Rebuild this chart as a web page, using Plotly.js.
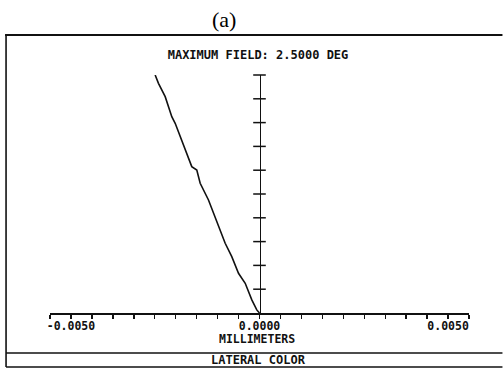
<!DOCTYPE html>
<html>
<head>
<meta charset="utf-8">
<script src="https://cdn.plot.ly/plotly-3.0.1.min.js"></script>
<style>html,body{margin:0;padding:0;background:#fff;}#chart{width:503px;height:369px;}</style>
</head>
<body>
<div id="chart"></div>
<script>
// Data (lateral color vs. relative field)
const fieldFraction = [0, 0.013, 0.055, 0.125, 0.167, 0.237, 0.293, 0.363, 0.475, 0.545, 0.601, 0.615, 0.727, 0.797, 0.825, 0.909, 0.965, 1.0];
const lateralColorMm = [0, -0.000072, -0.000204, -0.000379, -0.000557, -0.000735, -0.000910, -0.001088, -0.001353, -0.001573, -0.001663, -0.001796, -0.002061, -0.002236, -0.002326, -0.002501, -0.002679, -0.002767];
const xLabelValues = [-0.005, 0, 0.005];
const xLabelTexts = ['-0.0050', '0.0000', '0.0050'];
const yTickValues = [0.1, 0.2, 0.3, 0.4, 0.5, 0.6, 0.7, 0.8, 0.9, 1.0];
const titleText = 'MAXIMUM FIELD: 2.5000 DEG';
const xTitleText = 'MILLIMETERS';
const footerText = 'LATERAL COLOR';
const figLabel = '(a)';

// Axis tick layout: 9 minor steps per labelled interval
const step = 0.005 / 9;
const xTickVals = [], xTickText = [];
for (let i = -10; i <= 10; i++) {
  const v = i * step;
  xTickVals.push(v);
  let t = '';
  xLabelValues.forEach((lv, k) => { if (Math.abs(lv - v) < step / 10) t = xLabelTexts[k]; });
  xTickText.push(t);
}

const W = 503, H = 369;
const M = {l: 50, r: 33.5, t: 75, b: 56};
const pw = W - M.l - M.r, ph = H - M.t - M.b;
const px = x => (x - M.l) / pw;
const py = y => (H - M.b - y) / ph;

const mono = 'DejaVu Sans Mono, monospace';
const ink = '#111';

const curve = {
  x: lateralColorMm, y: fieldFraction, type: 'scatter', mode: 'lines',
  line: {color: ink, width: 1.6}, hoverinfo: 'skip', showlegend: false
};
// cross-shaped ticks on the vertical (field) axis
const crossTicks = {
  x: yTickValues.map(() => 0), y: yTickValues, type: 'scatter', mode: 'markers',
  marker: {symbol: 'line-ew', size: 9, line: {color: ink, width: 1.5}},
  hoverinfo: 'skip', showlegend: false, cliponaxis: false
};

const frame = (x0, y0, x1, y1, w) => ({type: 'line', xref: 'paper', yref: 'paper',
  x0: px(x0), y0: py(y0), x1: px(x1), y1: py(y1), line: {color: ink, width: w}});

const layout = {
  width: W, height: H, margin: M,
  paper_bgcolor: '#fff', plot_bgcolor: '#fff', showlegend: false,
  title: {text: '<b>' + titleText + '</b>', font: {family: mono, size: 12, color: ink},
    x: 258 / W, xanchor: 'center', y: 1 - 55 / H, yanchor: 'middle', xref: 'container', yref: 'container'},
  xaxis: {
    range: [-10 * step, 10 * step], showgrid: false, zeroline: false,
    showline: true, linecolor: ink, linewidth: 1.5,
    ticks: 'outside', ticklen: 4, tickwidth: 1.4, tickcolor: ink,
    tickmode: 'array', tickvals: xTickVals, ticktext: xTickText.map(t => t ? '<b>' + t + '</b>' : ''),
    tickfont: {family: mono, size: 11.5, color: ink}, ticklabelstandoff: -2
  },
  yaxis: {
    range: [0, 1], showgrid: false, zeroline: false,
    anchor: 'free', position: 0.5, side: 'left',
    showline: true, linecolor: ink, linewidth: 1.5,
    ticks: '', showticklabels: false
  },
  shapes: [
    frame(5, 35, 503, 35, 2.2),
    frame(6, 35, 6, 367, 1.6),
    frame(6, 353, 503, 353, 1.6),
    frame(6, 367, 503, 367, 1.6)
  ],
  annotations: [
    {text: '<b>' + xTitleText + '</b>', xref: 'paper', yref: 'paper', x: px(257), y: py(339),
      xanchor: 'center', yanchor: 'middle', showarrow: false,
      font: {family: mono, size: 11.5, color: ink}},
    {text: '<b>' + footerText + '</b>', xref: 'paper', yref: 'paper', x: px(259), y: py(360),
      xanchor: 'center', yanchor: 'middle', showarrow: false,
      font: {family: mono, size: 12, color: ink}},
    {text: figLabel, xref: 'paper', yref: 'paper', x: px(224), y: py(20),
      xanchor: 'center', yanchor: 'middle', showarrow: false,
      font: {family: 'Liberation Serif, Times New Roman, serif', size: 22, color: '#000'}}
  ]
};

Plotly.newPlot('chart', [curve, crossTicks], layout, {staticPlot: true, displayModeBar: false});
</script>
</body>
</html>
